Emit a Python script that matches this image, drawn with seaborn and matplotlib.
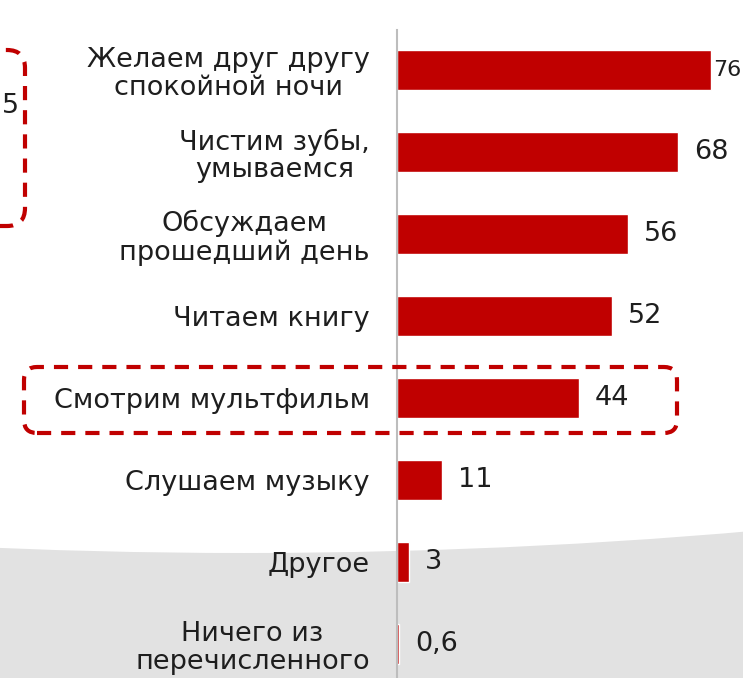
import matplotlib
matplotlib.use("Agg")
import matplotlib.pyplot as plt
import matplotlib.transforms as mtransforms
from matplotlib.patches import Ellipse, FancyBboxPatch, Rectangle
import seaborn as sns
import pandas as pd

categories = [
    "Желаем друг другу\nспокойной ночи",
    "Чистим зубы,\nумываемся",
    "Обсуждаем\nпрошедший день",
    "Читаем книгу",
    "Смотрим мультфильм",
    "Слушаем музыку",
    "Другое",
    "Ничего из\nперечисленного",
]
values = [76, 68, 56, 52, 44, 11, 3, 0.6]
side_note = "5"

BAR = "#C00000"
TEXT = "#1e1e1e"
FONT = ["DejaVu Sans"]
FS = 19.5

W, H, DPI = 743, 678, 100
sns.set_theme(style="white")
plt.rcParams["font.family"] = FONT

fig = plt.figure(figsize=(W / DPI, H / DPI), dpi=DPI)
fig.patch.set_facecolor("white")

ax_left = 397 / W
ax_top = 1 - 30 / H
ax = fig.add_axes([ax_left, 0, 1 - ax_left, ax_top])
ax.patch.set_alpha(0)

df = pd.DataFrame({"label": categories, "value": values})
sns.barplot(data=df, x="value", y="label", order=categories, color=BAR,
            width=0.49, saturation=1, ax=ax, zorder=3)

px_per_unit = 4.13
ax.set_xlim(0, (W - 397) / px_per_unit)
ax.set_ylim(7 + 34 / 82, -40 / 82)
ax.set_xlabel("")
ax.set_ylabel("")
ax.set_xticks([])
ax.tick_params(axis="y", length=0, pad=19.5, labelsize=FS, labelcolor=TEXT)
for lab in ax.get_yticklabels():
    lab.set_multialignment("center")
    lab.set_linespacing(1.08)
for s in ["top", "right", "bottom"]:
    ax.spines[s].set_visible(False)
ax.spines["left"].set_color("#bdbdbd")
ax.spines["left"].set_linewidth(1.5)
ax.spines["left"].set_zorder(4)

# value labels
fig.canvas.draw()
renderer = fig.canvas.get_renderer()
for i, v in enumerate(values):
    txt = f"{v:g}".replace(".", ",")
    off_pt = 11.5
    t = ax.annotate(txt, xy=(v, i), xytext=(off_pt, 0), textcoords="offset points",
                    ha="left", va="center", fontsize=FS, color=TEXT, zorder=5)
    bb = t.get_window_extent(renderer)
    if bb.x1 > W - 1:
        # little room at the right edge: hug the bar end and shrink to fit
        t.set_position((1.5, 0))
        fs = FS
        while fs > 10:
            bb = t.get_window_extent(renderer)
            if bb.x1 <= W - 1:
                break
            fs -= 0.5
            t.set_fontsize(fs)

# grey background with a concave white area above (pixel coords, origin bottom-left)
pix = mtransforms.IdentityTransform()
fig.add_artist(Rectangle((-10, -10), W + 20, 200, transform=pix,
                         facecolor="#e2e2e2", edgecolor="none", zorder=-6))
fig.add_artist(Ellipse((244, 1648), 6000, 3046, transform=pix,
                       facecolor="white", edgecolor="none", zorder=-5))

def dashed_box(x0, ytop, x1, ybot, r):
    p = FancyBboxPatch((x0, H - ybot), x1 - x0, ybot - ytop,
                       boxstyle=f"round,pad=0,rounding_size={r}",
                       transform=pix, facecolor="none", edgecolor=BAR,
                       linewidth=3, linestyle=(0, (3.4, 2.4)), zorder=6)
    fig.add_artist(p)

dashed_box(24, 367, 677, 433, 13)
dashed_box(-200, 50, 25, 226, 18)

fig.text(19 / W, 1 - 106 / H, side_note, ha="right", va="center",
         fontsize=FS, color=TEXT)

fig.savefig("out.png", dpi=DPI)
